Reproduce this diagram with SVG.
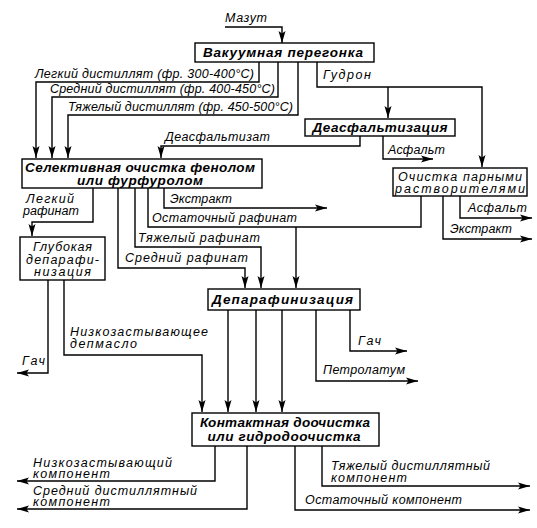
<svg xmlns="http://www.w3.org/2000/svg" width="537" height="528" viewBox="0 0 537 528">
<defs>
<marker id="ah" markerUnits="userSpaceOnUse" markerWidth="12" markerHeight="8" viewBox="0 0 12 8" refX="12" refY="4" orient="auto">
<path d="M0,0.5 L12,4 L0,7.5 L2.5,4 Z" fill="#000"/>
</marker>
<style>
.bx{fill:#fff;stroke:#000;stroke-width:1.4}
.c{fill:none;stroke:#000;stroke-width:1.4}
.a{marker-end:url(#ah)}
text{font-family:"Liberation Sans",Arial,sans-serif;font-style:italic;font-size:12.5px;fill:#000}
.t{font-weight:bold;font-size:13.5px;text-anchor:middle}
.m{text-anchor:middle;font-size:12.5px}
</style>
</defs>
<rect width="537" height="528" fill="#fff"/>
<g id="connectors">
<path class="c a" d="M225,27 H282 V43"/>
<path class="c a" d="M259,62 V82 H36 V158"/>
<path class="c a" d="M278,62 V97 H52 V158"/>
<path class="c a" d="M298,62 V115 H68 V158"/>
<path class="c a" d="M317,62 V87 H482 V167"/>
<path class="c a" d="M388,87 V118"/>
<path class="c a" d="M360,136 V146 H161 V158"/>
<path class="c a" d="M383,136 V159 H433"/>
<path class="c a" d="M460,196 V218 H532"/>
<path class="c a" d="M443,196 V239 H532"/>
<path class="c" d="M148,188 V227 H421 V196"/>
<path class="c a" d="M296,227 V288"/>
<path class="c a" d="M164,188 V208 H327"/>
<path class="c a" d="M135,188 V247 H261 V288"/>
<path class="c a" d="M118,188 V268 H245 V288"/>
<path class="c a" d="M93,188 V222 H32 V236"/>
<path class="c a" d="M48,280 V373 H17"/>
<path class="c a" d="M64,280 V355 H202 V412"/>
<path class="c a" d="M228,310 V412"/>
<path class="c a" d="M256,310 V412"/>
<path class="c a" d="M282,310 V412"/>
<path class="c a" d="M350,310 V351 H407"/>
<path class="c a" d="M316,310 V381 H418"/>
<path class="c a" d="M215,446 V481 H17"/>
<path class="c a" d="M247,446 V509 H17"/>
<path class="c a" d="M322,446 V486 H530"/>
<path class="c a" d="M295,446 V510 H530"/>
</g>
<g id="labels">
<text x="225" y="22" textLength="42" lengthAdjust="spacing">Мазут</text>
<text x="35" y="78" textLength="219" lengthAdjust="spacing">Легкий дистиллят (фр. 300-400°С)</text>
<text x="50" y="93" textLength="225" lengthAdjust="spacing">Средний дистиллят (фр. 400-450°С)</text>
<text x="68" y="111" textLength="225" lengthAdjust="spacing">Тяжелый дистиллят (фр. 450-500°С)</text>
<text x="323" y="79" textLength="48" lengthAdjust="spacing">Гудрон</text>
<text x="165" y="141" textLength="105" lengthAdjust="spacing">Деасфальтизат</text>
<text x="388" y="154" textLength="57" lengthAdjust="spacing">Асфальт</text>
<text x="468" y="212" textLength="59" lengthAdjust="spacing">Асфальт</text>
<text x="450" y="233" textLength="62" lengthAdjust="spacing">Экстракт</text>
<text x="170" y="203" textLength="62" lengthAdjust="spacing">Экстракт</text>
<text x="152" y="222" textLength="145" lengthAdjust="spacing">Остаточный рафинат</text>
<text x="138" y="242" textLength="122" lengthAdjust="spacing">Тяжелый рафинат</text>
<text x="125" y="262" textLength="123" lengthAdjust="spacing">Средний рафинат</text>
<text><tspan x="26" y="203" textLength="48" lengthAdjust="spacing">Легкий</tspan><tspan x="23" y="215" textLength="56" lengthAdjust="spacing">рафинат</tspan></text>
<text x="22" y="365" textLength="23" lengthAdjust="spacing">Гач</text>
<text><tspan x="70" y="336" textLength="138" lengthAdjust="spacing">Низкозастывающее</tspan><tspan x="70" y="348" textLength="67" lengthAdjust="spacing">депмасло</tspan></text>
<text x="358" y="345" textLength="23" lengthAdjust="spacing">Гач</text>
<text x="323" y="374" textLength="82" lengthAdjust="spacing">Петролатум</text>
<text><tspan x="33" y="467" textLength="139" lengthAdjust="spacing">Низкозастывающий</tspan><tspan x="33" y="478" textLength="77" lengthAdjust="spacing">компонент</tspan></text>
<text><tspan x="33" y="495" textLength="164" lengthAdjust="spacing">Средний дистиллятный</tspan><tspan x="33" y="506" textLength="77" lengthAdjust="spacing">компонент</tspan></text>
<text><tspan x="331" y="470" textLength="159" lengthAdjust="spacing">Тяжелый дистиллятный</tspan><tspan x="331" y="482" textLength="76" lengthAdjust="spacing">компонент</tspan></text>
<text x="305" y="504" textLength="157" lengthAdjust="spacing">Остаточный компонент</text>
</g>
<g id="vacuum">
<rect class="bx" x="195" y="43" width="179" height="19"/>
<text class="t" x="283" y="57" textLength="160" lengthAdjust="spacing">Вакуумная перегонка</text>
</g>
<g id="deasphalt">
<rect class="bx" x="305" y="119" width="150" height="17"/>
<text class="t" x="380" y="132" textLength="135" lengthAdjust="spacing">Деасфальтизация</text>
</g>
<g id="pair-solvent">
<rect class="bx" x="393" y="168" width="134" height="28"/>
<text class="m"><tspan x="460" y="181" textLength="124" lengthAdjust="spacing">Очистка парными</tspan><tspan x="460" y="193" textLength="130" lengthAdjust="spacing">растворителями</tspan></text>
</g>
<g id="selective">
<rect class="bx" x="22" y="159" width="240" height="29"/>
<text class="t"><tspan x="140" y="172" textLength="230" lengthAdjust="spacing">Селективная очистка фенолом</tspan><tspan x="140" y="185" textLength="126" lengthAdjust="spacing">или фурфуролом</tspan></text>
</g>
<g id="deep-dewax">
<rect class="bx" x="20" y="237" width="85" height="43"/>
<text class="m"><tspan x="62.5" y="251" textLength="59" lengthAdjust="spacing">Глубокая</tspan><tspan x="62.5" y="264" textLength="73" lengthAdjust="spacing">депарафи-</tspan><tspan x="62.5" y="276" textLength="57" lengthAdjust="spacing">низация</tspan></text>
</g>
<g id="dewax">
<rect class="bx" x="208" y="289" width="152" height="21"/>
<text class="t" x="282.5" y="304" textLength="141" lengthAdjust="spacing">Депарафинизация</text>
</g>
<g id="contact">
<rect class="bx" x="192" y="413" width="187" height="33"/>
<text class="t"><tspan x="285" y="427" textLength="170" lengthAdjust="spacing">Контактная доочистка</tspan><tspan x="284" y="441" textLength="153" lengthAdjust="spacing">или гидродоочистка</tspan></text>
</g>
</svg>
